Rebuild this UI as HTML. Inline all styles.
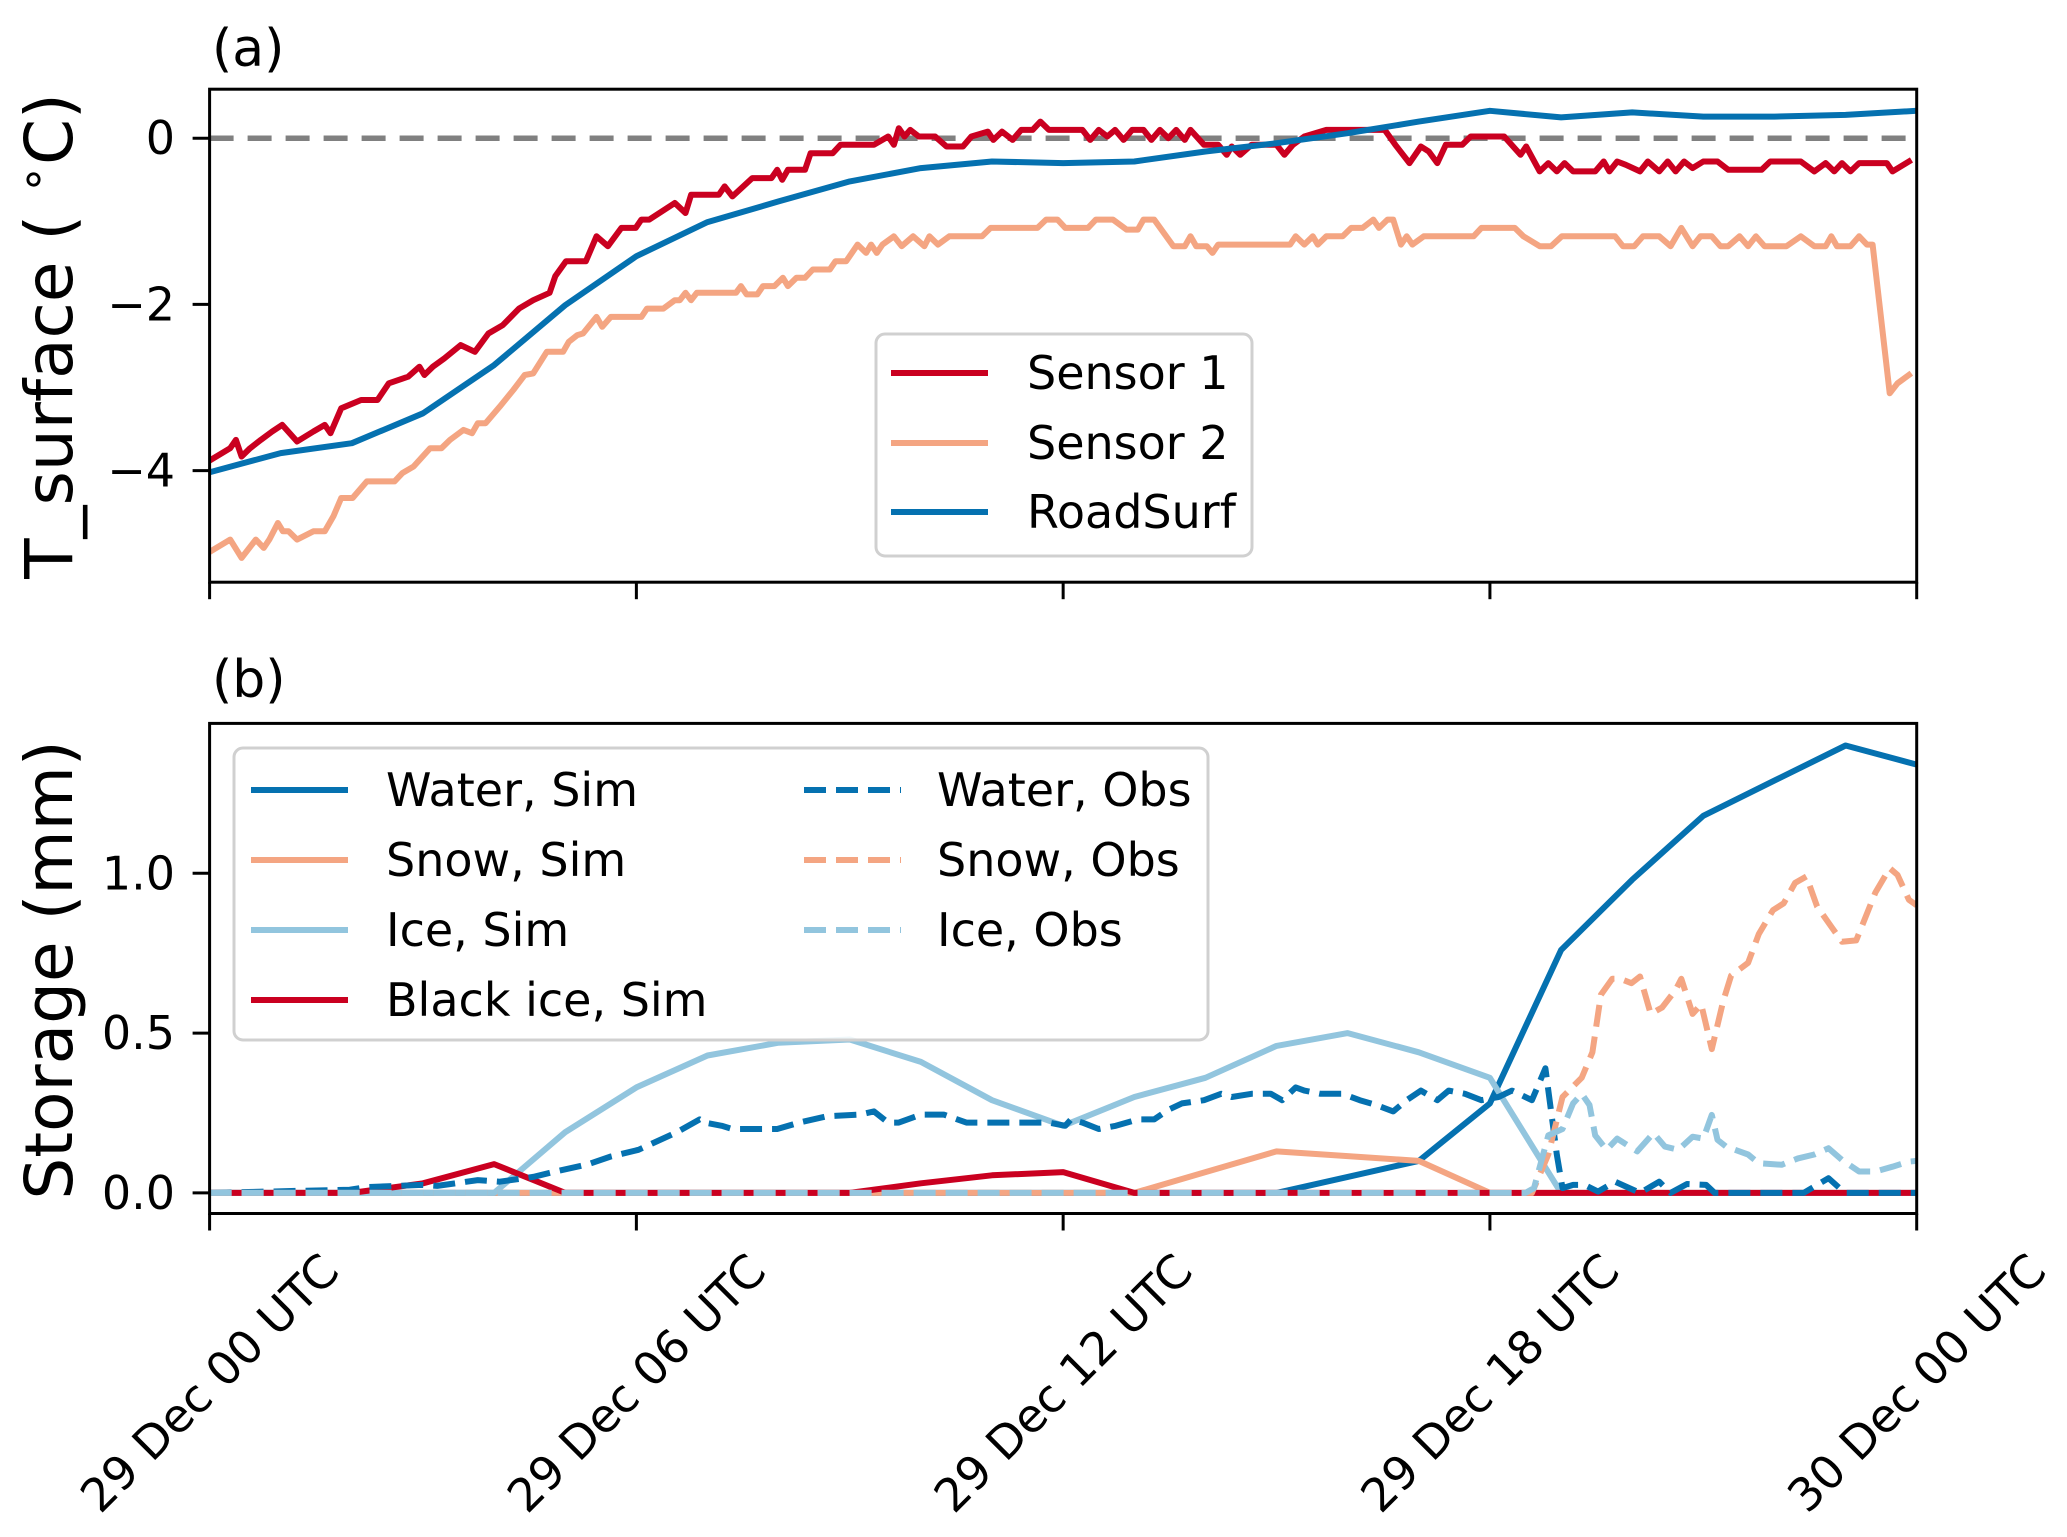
<!DOCTYPE html>
<html>
<head>
<meta charset="utf-8">
<style>
html,body{margin:0;padding:0;background:#fff;}
svg{display:block;}
text{font-family:"DejaVu Sans","Liberation Sans",sans-serif;fill:#000;}
</style>
</head>
<body>
<svg id="fig" xmlns="http://www.w3.org/2000/svg" width="2067" height="1537" viewBox="0 0 2067 1537">
  <rect x="0" y="0" width="2067" height="1537" fill="#fff"/>
  <defs>
    <clipPath id="clipA"><rect x="209.6" y="89.2" width="1707.1" height="493"/></clipPath>
    <clipPath id="clipB"><rect x="209.6" y="723.4" width="1707.1" height="490.1"/></clipPath>
  </defs>
  <g id="panelA"></g>
  <g id="panelB"></g>
</svg>
<script>
// ---------- Panel (a) data ----------
const roadHours = [0,1,2,3,4,5,6,7,8,9,10,11,12,13,14,15,16,17,18,19,20,21,22,23,24];
const roadSurf = [-4.02,-3.79,-3.67,-3.31,-2.73,-2.01,-1.42,-1.01,-0.76,-0.52,-0.36,-0.28,-0.30,-0.28,-0.16,-0.06,0.06,0.20,0.33,0.25,0.31,0.26,0.26,0.28,0.33];

const s1Hours = [0,0.29,0.37,0.45,0.57,0.72,0.88,1.02,1.23,1.46,1.62,1.70,1.85,2.13,2.36,2.52,2.79,2.95,3.02,3.14,3.30,3.53,3.73,3.92,4.12,4.35,4.55,4.78,4.86,5.01,5.29,5.44,5.60,5.79,5.99,6.07,6.18,6.54,6.69,6.77,7.16,7.24,7.35,7.63,7.90,7.98,8.05,8.13,8.37,8.45,8.76,8.87,9.34,9.54,9.62,9.69,9.77,9.85,9.97,10.2,10.36,10.59,10.71,10.94,11.02,11.14,11.29,11.41,11.57,11.68,11.80,12.27,12.38,12.5,12.62,12.73,12.85,12.97,13.13,13.24,13.36,13.48,13.59,13.71,13.79,13.98,14.18,14.3,14.37,14.49,14.65,15.0,15.11,15.23,15.39,15.7,16.52,16.67,16.87,17.03,17.14,17.26,17.38,17.61,17.73,18.2,18.43,18.51,18.7,18.82,18.94,19.05,19.17,19.48,19.6,19.68,19.79,19.91,20.11,20.22,20.38,20.5,20.61,20.73,20.85,21.0,21.2,21.35,21.82,21.94,22.37,22.56,22.72,22.84,22.95,23.07,23.19,23.58,23.66,23.89];
const s1Temps = [-3.88,-3.73,-3.63,-3.83,-3.73,-3.63,-3.53,-3.45,-3.65,-3.53,-3.45,-3.55,-3.25,-3.15,-3.15,-2.95,-2.87,-2.75,-2.85,-2.75,-2.65,-2.49,-2.57,-2.35,-2.25,-2.05,-1.95,-1.86,-1.66,-1.48,-1.48,-1.18,-1.30,-1.08,-1.08,-0.98,-0.98,-0.78,-0.90,-0.68,-0.68,-0.58,-0.70,-0.48,-0.48,-0.38,-0.50,-0.38,-0.38,-0.18,-0.18,-0.08,-0.08,0.02,-0.08,0.12,0.02,0.10,0.02,0.02,-0.10,-0.10,0.02,0.08,-0.02,0.08,-0.02,0.10,0.10,0.20,0.10,0.10,-0.02,0.10,0.02,0.10,-0.02,0.10,0.10,-0.02,0.10,0.00,0.10,-0.02,0.10,-0.08,-0.08,-0.20,-0.10,-0.20,-0.08,-0.08,-0.20,-0.08,0.02,0.10,0.10,-0.08,-0.30,-0.10,-0.16,-0.30,-0.08,-0.08,0.02,0.02,-0.20,-0.10,-0.40,-0.30,-0.40,-0.30,-0.40,-0.40,-0.28,-0.40,-0.28,-0.32,-0.40,-0.28,-0.40,-0.28,-0.40,-0.28,-0.36,-0.28,-0.28,-0.38,-0.38,-0.28,-0.28,-0.40,-0.30,-0.40,-0.30,-0.40,-0.30,-0.30,-0.40,-0.28];

const s2Hours = [0,0.29,0.45,0.65,0.76,0.84,0.96,1.03,1.11,1.23,1.46,1.62,1.74,1.85,2.01,2.21,2.6,2.71,2.87,3.1,3.26,3.38,3.57,3.69,3.77,3.88,4.08,4.27,4.43,4.55,4.74,4.97,5.05,5.17,5.25,5.44,5.52,5.64,6.07,6.15,6.38,6.54,6.61,6.69,6.77,6.85,7.4,7.47,7.55,7.7,7.78,7.94,8.06,8.13,8.25,8.37,8.48,8.72,8.8,8.95,9.11,9.23,9.3,9.38,9.46,9.62,9.73,9.89,10.05,10.12,10.24,10.4,10.86,10.98,11.64,11.76,11.92,12.03,12.35,12.46,12.7,12.89,13.05,13.13,13.28,13.55,13.71,13.79,13.87,14.02,14.1,14.18,15.19,15.27,15.39,15.51,15.58,15.7,15.93,16.05,16.21,16.36,16.44,16.56,16.64,16.75,16.83,16.91,17.07,17.77,17.88,18.35,18.47,18.7,18.86,19.01,19.76,19.87,20.03,20.15,20.38,20.54,20.69,20.85,20.96,21.12,21.24,21.35,21.51,21.63,21.74,21.86,22.17,22.37,22.56,22.72,22.8,22.88,23.07,23.19,23.3,23.38,23.62,23.73,23.89];
const s2Temps = [-4.98,-4.83,-5.05,-4.83,-4.93,-4.83,-4.63,-4.73,-4.73,-4.83,-4.73,-4.73,-4.55,-4.33,-4.33,-4.13,-4.13,-4.03,-3.95,-3.73,-3.73,-3.63,-3.51,-3.55,-3.43,-3.43,-3.23,-3.03,-2.85,-2.83,-2.57,-2.57,-2.45,-2.37,-2.35,-2.15,-2.27,-2.15,-2.15,-2.05,-2.05,-1.95,-1.95,-1.86,-1.95,-1.86,-1.86,-1.78,-1.88,-1.88,-1.78,-1.78,-1.68,-1.78,-1.68,-1.68,-1.58,-1.58,-1.48,-1.48,-1.28,-1.38,-1.28,-1.38,-1.28,-1.18,-1.30,-1.18,-1.30,-1.18,-1.28,-1.18,-1.18,-1.08,-1.08,-0.98,-0.98,-1.08,-1.08,-0.98,-0.98,-1.10,-1.10,-0.98,-0.98,-1.30,-1.30,-1.18,-1.30,-1.30,-1.38,-1.28,-1.28,-1.18,-1.28,-1.18,-1.28,-1.18,-1.18,-1.08,-1.08,-0.98,-1.08,-0.98,-0.98,-1.28,-1.18,-1.28,-1.18,-1.18,-1.08,-1.08,-1.18,-1.30,-1.30,-1.18,-1.18,-1.30,-1.30,-1.18,-1.18,-1.30,-1.08,-1.30,-1.18,-1.18,-1.30,-1.30,-1.18,-1.30,-1.18,-1.30,-1.30,-1.18,-1.30,-1.30,-1.18,-1.30,-1.30,-1.18,-1.28,-1.28,-3.07,-2.95,-2.85];

const tempTicks = [0,-2,-4];
const tempTickLabels = ["0","\u22122","\u22124"];

// ---------- Panel (b) data ----------
const simHours = [0,1,2,3,4,5,6,7,8,9,10,11,12,13,14,15,16,17,18,19,20,21,22,23,24];
const waterSim = [0,0,0,0,0,0,0,0,0,0,0,0,0,0,0,0,0.05,0.10,0.28,0.76,0.98,1.18,1.29,1.40,1.34];
const snowSim = [0,0,0,0,0,0,0,0,0,0,0,0,0,0,0.065,0.13,0.115,0.10,0,0,0,0,0,0,0];
const iceSim = [0,0,0,0,0,0.19,0.33,0.43,0.47,0.48,0.41,0.29,0.21,0.30,0.36,0.46,0.50,0.44,0.36,0,0,0,0,0,0];
const blackIceSim = [0,0,0,0.03,0.09,0,0,0,0,0,0.03,0.055,0.065,0,0,0,0,0,0,0,0,0,0,0,0];

const waterObsHours = [0,1.97,2.2,2.98,3.2,3.77,4.08,4.55,4.86,5.33,5.64,6.03,6.57,6.89,6.96,7.2,7.35,7.98,8.29,8.68,9.15,9.34,9.54,9.69,10.0,10.32,10.64,11.26,11.8,12.03,12.11,12.27,12.5,12.74,13.05,13.28,13.48,13.67,13.98,14.22,14.37,14.65,14.92,15.08,15.27,15.39,15.62,15.93,16.17,16.4,16.64,16.83,17.03,17.26,17.42,17.65,17.88,18.12,18.31,18.59,18.78,18.94,19.02,19.17,19.33,19.52,19.76,20.11,20.38,20.54,20.77,21.04,21.16,22.41,22.76,22.99,24];
const waterObs = [0,0.01,0.018,0.025,0.022,0.04,0.035,0.05,0.067,0.09,0.114,0.135,0.19,0.23,0.22,0.21,0.20,0.20,0.22,0.24,0.245,0.255,0.22,0.22,0.245,0.245,0.22,0.22,0.22,0.21,0.23,0.22,0.20,0.21,0.23,0.23,0.26,0.28,0.29,0.31,0.30,0.31,0.31,0.29,0.33,0.32,0.31,0.31,0.29,0.275,0.255,0.29,0.32,0.29,0.32,0.31,0.29,0.30,0.32,0.29,0.39,0.12,0.015,0.025,0.025,0.004,0.035,0,0.035,0,0.028,0.025,0,0,0.046,0,0];

const snowObsHours = [0,18.59,18.82,19.02,19.29,19.44,19.56,19.72,19.83,19.99,20.11,20.26,20.42,20.61,20.69,20.85,20.97,21.12,21.28,21.39,21.63,21.78,21.98,22.13,22.29,22.45,22.6,22.8,22.95,23.15,23.42,23.62,23.73,23.89,24];
const snowObs = [0,0,0.12,0.30,0.36,0.44,0.62,0.67,0.67,0.656,0.677,0.56,0.58,0.635,0.67,0.56,0.59,0.45,0.60,0.68,0.72,0.81,0.885,0.906,0.97,0.99,0.896,0.833,0.786,0.79,0.94,1.016,0.995,0.917,0.90];

const iceObsHours = [0,18.5,18.62,18.82,19.02,19.17,19.29,19.4,19.48,19.64,19.79,20.07,20.3,20.46,20.65,20.85,21.0,21.12,21.2,21.32,21.63,21.78,22.1,22.33,22.56,22.76,22.95,23.19,23.42,23.66,23.89,24];
const iceObs = [0,0,0.015,0.18,0.20,0.28,0.31,0.275,0.18,0.135,0.17,0.13,0.187,0.145,0.135,0.176,0.17,0.244,0.166,0.145,0.12,0.093,0.088,0.108,0.12,0.14,0.103,0.067,0.067,0.082,0.098,0.10];

const storageTicks = [0,0.5,1.0];
const storageTickLabels = ["0.0","0.5","1.0"];

const timeTicks = [0,6,12,18,24];
const timeTickLabels = ["29 Dec 00 UTC","29 Dec 06 UTC","29 Dec 12 UTC","29 Dec 18 UTC","30 Dec 00 UTC"];

// ---------- geometry ----------
const NS = "http://www.w3.org/2000/svg";
const X0 = 209.6, X1 = 1916.7;
const A_TOP = 89.2, A_BOT = 582.2;
const B_TOP = 723.4, B_BOT = 1213.5;
function xs(h){ return X0 + (X1 - X0) * h / 24; }
function ya(t){ return 138.2 - t * 83.1; }
function yb(s){ return 1192.9 - s * 319.6; }

const C_RED = "#ca0020", C_ORANGE = "#f4a582", C_LBLUE = "#92c5de", C_BLUE = "#0571b0";
const LW = 6;

function mk(tag, attrs, parent){
  const e = document.createElementNS(NS, tag);
  for (const k in attrs) e.setAttribute(k, attrs[k]);
  parent.appendChild(e);
  return e;
}
function pathFrom(hs, vs, yf){
  let d = "";
  for (let i = 0; i < hs.length; i++) d += (i ? "L" : "M") + xs(hs[i]).toFixed(1) + "," + yf(vs[i]).toFixed(1);
  return d;
}
function series(parent, hs, vs, yf, color, dashed, name, clip){
  const p = mk("path", {d: pathFrom(hs, vs, yf), fill: "none", stroke: color, "stroke-width": LW, "stroke-linejoin": "round", "stroke-linecap": dashed ? "butt" : "square", "clip-path": "url(#" + clip + ")"}, parent);
  if (dashed) p.setAttribute("stroke-dasharray", "22 10");
  
  
  return p;
}

const gA = document.getElementById("panelA");
const gB = document.getElementById("panelB");

// ---------- Panel (a) ----------
const zl = mk("line", {x1: X0, x2: X1, y1: ya(0), y2: ya(0), stroke: "#808080", "stroke-width": 5.5, "stroke-dasharray": "24 14"}, gA);


series(gA, s2Hours, s2Temps, ya, C_ORANGE, false, "sensor-2-line", "clipA");
series(gA, s1Hours, s1Temps, ya, C_RED, false, "sensor-1-line", "clipA");
series(gA, roadHours, roadSurf, ya, C_BLUE, false, "roadsurf-line", "clipA");

// ---------- Panel (b) ----------
series(gB, simHours, waterSim, yb, C_BLUE, false, "water-sim-line", "clipB");
series(gB, simHours, snowSim, yb, C_ORANGE, false, "snow-sim-line", "clipB");
series(gB, simHours, iceSim, yb, C_LBLUE, false, "ice-sim-line", "clipB");
series(gB, simHours, blackIceSim, yb, C_RED, false, "black-ice-sim-line", "clipB");
series(gB, waterObsHours, waterObs, yb, C_BLUE, true, "water-obs-line", "clipB");
series(gB, snowObsHours, snowObs, yb, C_ORANGE, true, "snow-obs-line", "clipB");
series(gB, iceObsHours, iceObs, yb, C_LBLUE, true, "ice-obs-line", "clipB");

// ---------- axes ----------
function frame(parent, top, bot, name){
  const r = mk("rect", {x: X0, y: top, width: X1 - X0, height: bot - top, fill: "none", stroke: "#000", "stroke-width": 3}, parent);
  
  
}
frame(gA, A_TOP, A_BOT, "panel-a-frame");
frame(gB, B_TOP, B_BOT, "panel-b-frame");

function yTicks(parent, ticks, labels, yf, prefix){
  for (let i = 0; i < ticks.length; i++){
    const y = yf(ticks[i]);
    mk("line", {x1: X0 - 17, x2: X0, y1: y, y2: y, stroke: "#000", "stroke-width": 3}, parent);
    const t = mk("text", {x: 175, y: y, "text-anchor": "end", "dominant-baseline": "central", "font-size": 46}, parent);
    t.textContent = labels[i];
    
    
  }
}
yTicks(gA, tempTicks, tempTickLabels, ya, "temperature");
yTicks(gB, storageTicks, storageTickLabels, yb, "storage");

for (let i = 0; i < timeTicks.length; i++){
  const x = xs(timeTicks[i]);
  mk("line", {x1: x, x2: x, y1: A_BOT, y2: A_BOT + 17, stroke: "#000", "stroke-width": 3}, gA);
  mk("line", {x1: x, x2: x, y1: B_BOT, y2: B_BOT + 17, stroke: "#000", "stroke-width": 3}, gB);
  const t = mk("text", {x: x, y: 1383, "text-anchor": "middle", "dominant-baseline": "central", "font-size": 46, transform: "rotate(-45 " + x.toFixed(1) + " 1383)"}, gB);
  t.textContent = timeTickLabels[i];
  
  
}

// ---------- titles / labels ----------
const la = mk("text", {x: 212, y: 66, "font-size": 52}, gA);
la.textContent = "(a)";


const lb = mk("text", {x: 212, y: 697, "font-size": 52}, gB);
lb.textContent = "(b)";



const yla = mk("text", {x: 0, y: 0, "font-size": 66, "text-anchor": "middle", transform: "translate(72 336) rotate(-90)"}, gA);
yla.innerHTML = 'T_surface ( <tspan font-size="46" dy="-24">∘</tspan><tspan dy="24">C)</tspan>';


const ylb = mk("text", {x: 0, y: 0, "font-size": 66, "text-anchor": "middle", transform: "translate(72 970) rotate(-90)"}, gB);
ylb.textContent = "Storage (mm)";



// ---------- legends ----------
function legendBox(parent, x, y, w, h, name){
  const r = mk("rect", {x: x, y: y, width: w, height: h, rx: 9, fill: "#fff", "fill-opacity": 0.85, stroke: "#d0d0d0", "stroke-width": 3}, parent);
  
  
}
function legendEntry(parent, lx, tx, y, color, dashed, label){
  const g = mk("g", {}, parent);
  
  
  const l = mk("line", {x1: lx, x2: lx + 97, y1: y, y2: y, stroke: color, "stroke-width": LW}, g);
  if (dashed) l.setAttribute("stroke-dasharray", "22 10");
  const t = mk("text", {x: tx, y: y, "dominant-baseline": "central", "font-size": 46}, g);
  t.textContent = label;
}
legendBox(gA, 876, 334, 376, 222, "legend-temperature");
legendEntry(gA, 891, 1027, 373, C_RED, false, "Sensor 1");
legendEntry(gA, 891, 1027, 443, C_ORANGE, false, "Sensor 2");
legendEntry(gA, 891, 1027, 512, C_BLUE, false, "RoadSurf");

legendBox(gB, 234, 748, 974, 292, "legend-storage");
legendEntry(gB, 251, 386, 790, C_BLUE, false, "Water, Sim");
legendEntry(gB, 251, 386, 860, C_ORANGE, false, "Snow, Sim");
legendEntry(gB, 251, 386, 930, C_LBLUE, false, "Ice, Sim");
legendEntry(gB, 251, 386, 1000, C_RED, false, "Black ice, Sim");
legendEntry(gB, 804, 937, 790, C_BLUE, true, "Water, Obs");
legendEntry(gB, 804, 937, 860, C_ORANGE, true, "Snow, Obs");
legendEntry(gB, 804, 937, 930, C_LBLUE, true, "Ice, Obs");
</script>
</body>
</html>
